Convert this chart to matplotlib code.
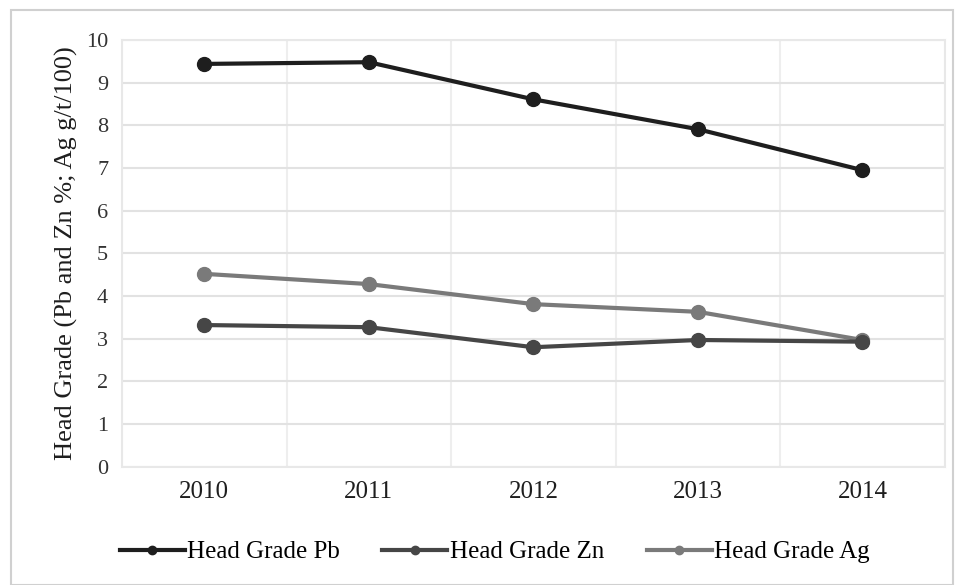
import numpy as np
import matplotlib
matplotlib.use("Agg")
import matplotlib.pyplot as plt
from matplotlib.patches import Rectangle

years = ["2010", "2011", "2012", "2013", "2014"]
pb = [9.44, 9.48, 8.61, 7.91, 6.95]
zn = [3.32, 3.27, 2.80, 2.97, 2.93]
ag = [4.52, 4.28, 3.81, 3.63, 2.97]
labels = ["Head Grade Pb", "Head Grade Zn", "Head Grade Ag"]

plt.rcParams['font.family'] = ['Liberation Serif', 'DejaVu Serif']

fig = plt.figure(figsize=(9.64, 5.85), dpi=100)
# outer frame of the picture
fig.patches.append(Rectangle((0.011, 0.0), 0.978, 0.983, transform=fig.transFigure,
                             fill=False, edgecolor='#d0d0d0', linewidth=1.5))
ax = fig.add_axes([0.1266, 0.2022, 0.8534, 0.7294])

x = np.arange(len(years))
ax.plot(x, pb, '-o', color='#1e1e1e', lw=3, ms=10, label=labels[0], zorder=4)
ax.plot(x, zn, '-o', color='#464646', lw=3, ms=10, label=labels[1], zorder=3)
ax.plot(x, ag, '-o', color='#7a7a7a', lw=3, ms=10, label=labels[2], zorder=2)

ax.set_xlim(-0.5, 4.5)
ax.set_ylim(0, 10)
ax.set_yticks(range(0, 11))
ax.set_xticks(x)
ax.set_xticklabels(years, fontsize=18)
ax.tick_params(axis='y', labelsize=16, length=0, pad=10, colors='#333333')
ax.tick_params(axis='x', length=0, pad=10, colors='#1e1e1e')

# grid: horizontal at integers, vertical between categories
ax.grid(axis='y', color='#e2e2e2', lw=1.5)
ax.set_xticks(np.arange(-0.5, 5, 1), minor=True)
ax.grid(axis='x', which='minor', color='#eeeeee', lw=1.5)
ax.tick_params(axis='x', which='minor', length=0)
ax.set_axisbelow(True)
for s in ax.spines.values():
    s.set_color('#e8e8e8')
    s.set_linewidth(1.5)

ax.set_ylabel("Head Grade (Pb and Zn %; Ag g/t/100)", fontsize=19, color='#1e1e1e', labelpad=6)

ax.legend(loc='center', bbox_to_anchor=(0.453, -0.20), ncol=3, frameon=False,
          fontsize=18, handlelength=2.6, handletextpad=0.1, columnspacing=1.7, markerscale=0.6)

fig.savefig("out.png", dpi=100)
